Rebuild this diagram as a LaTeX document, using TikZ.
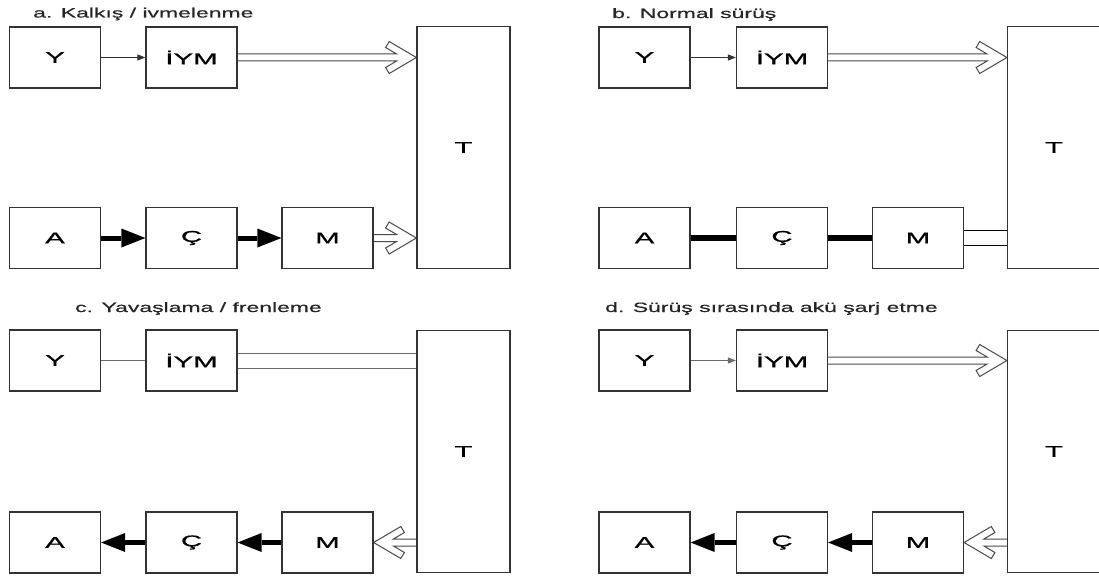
\documentclass[tikz,border=0pt]{standalone}
\usepackage{fontspec}
\usetikzlibrary{arrows.meta,backgrounds}
\newfontfamily\arialw{Liberation Sans}[FakeStretch=1.7,FakeBold=0.6]
\newfontfamily\arialb{Liberation Sans}[FakeStretch=1.9,FakeBold=1]
\definecolor{boxc}{HTML}{333333}
\definecolor{holc}{HTML}{4A4A4A}
\definecolor{grayl}{HTML}{6A6A6A}
% hollow double arrow: #1 start point (on a node border), #2 tip point; R = to the right, L = to the left
\newcommand\hollowR[2]{%
  \draw[holarr] ([shift={(0,-3.5)}]#1) -- ([shift={(-19.8,-3.5)}]#2) -- ([shift={(-30.8,-10)}]#2)
   -- ([shift={(-27.2,-16)}]#2) -- (#2) -- ([shift={(-27.2,16)}]#2) -- ([shift={(-30.8,10)}]#2)
   -- ([shift={(-19.8,3.5)}]#2) -- ([shift={(0,3.5)}]#1);}
\newcommand\hollowL[2]{%
  \draw[holarr] ([shift={(0,-3.5)}]#1) -- ([shift={(19.8,-3.5)}]#2) -- ([shift={(30.8,-10)}]#2)
   -- ([shift={(27.2,-16)}]#2) -- (#2) -- ([shift={(27.2,16)}]#2) -- ([shift={(30.8,10)}]#2)
   -- ([shift={(19.8,3.5)}]#2) -- ([shift={(0,3.5)}]#1);}
\begin{document}
\begin{tikzpicture}[x=1pt,y=-1pt,
 box/.style={draw=boxc,line width=1.2pt,inner sep=0pt,minimum width=91pt,minimum height=61pt,font={\arialb\fontsize{15.5pt}{15.5pt}\selectfont}},
 tall/.style={box,minimum width=93pt,minimum height=242pt},
 ttl/.style={anchor=base west,inner sep=0pt,font={\arialw\fontsize{13.5pt}{13.5pt}\selectfont},text=black!85},
 thinarr/.style={draw=boxc,line width=0.9pt,-{Triangle[length=8pt,width=6pt]}},
 thickarr/.style={draw=black,line width=5pt,-{Triangle[length=24pt,width=19pt,line width=0pt]}},
 thickln/.style={draw=black,line width=6pt},
 holarr/.style={draw=holc,fill=white,line width=1pt,line join=miter},
 twin/.style={line width=1pt,double=white,double distance=14pt},
]
\useasboundingbox (0,0) rectangle (1099,575);

% ---------- panel a ----------
\node[ttl] (ta) at (33,17.5) {a. Kalkış / ivmelenme};
\node[box] (Ya) at (55,57.5) {Y};
\node[box] (Ia) at (191.5,57.5) {İYM};
\node[tall] (Ta) at (463.5,147.5) {T};
\node[box] (Aa) at (55,238) {A};
\node[box] (Ca) at (191.5,238) {Ç};
\node[box] (Ma) at (327.5,238) {M};

% ---------- panel b ----------
\node[ttl] (tb) at (612,18) {b. Normal sürüş};
\node[box] (Yb) at (644.5,57.5) {Y};
\node[box] (Ib) at (782,57.5) {İYM};
\node[tall] (Tb) at (1054,147.5) {T};
\node[box] (Ab) at (644.5,238) {A};
\node[box] (Cb) at (782,238) {Ç};
\node[box] (Mb) at (918,238) {M};

% ---------- panel c ----------
\node[ttl] (tc) at (75,312) {c. Yavaşlama / frenleme};
\node[box] (Yc) at (55,360.5) {Y};
\node[box] (Ic) at (191.5,360.5) {İYM};
\node[tall] (Tc) at (463.5,451.5) {T};
\node[box] (Ac) at (55,542.5) {A};
\node[box] (Cc) at (191.5,542.5) {Ç};
\node[box] (Mc) at (327.5,542.5) {M};

% ---------- panel d ----------
\node[ttl] (td) at (605,312) {d. Sürüş sırasında akü şarj etme};
\node[box] (Yd) at (644.5,360.5) {Y};
\node[box] (Id) at (782,360.5) {İYM};
\node[tall] (Td) at (1054,451.5) {T};
\node[box] (Ad) at (644.5,542.5) {A};
\node[box] (Cd) at (782,542.5) {Ç};
\node[box] (Md) at (918,542.5) {M};

\begin{pgfonlayer}{background}
% panel a
\draw[thinarr] (Ya) -- (Ia);
\coordinate (pa1) at (Ia.east -| Ta.west);
\hollowR{Ia.east}{pa1}
\draw[thickarr] (Aa) -- (Ca);
\draw[thickarr] (Ca) -- (Ma);
\coordinate (pa2) at (Ma.east -| Ta.west);
\hollowR{Ma.east}{pa2}

% panel b
\draw[thinarr] (Yb) -- (Ib);
\coordinate (pb1) at (Ib.east -| Tb.west);
\hollowR{Ib.east}{pb1}
\draw[thickln] (Ab) -- (Cb);
\draw[thickln] (Cb) -- (Mb);
\draw[twin,draw=black] (Mb.east) -- (Mb.east -| Tb.west);

% panel c
\draw[draw=grayl,line width=1pt] (Yc) -- (Ic);
\draw[twin,draw=grayl] (Ic.east) -- (Ic.east -| Tc.west);
\coordinate (pc0) at (Mc.east -| Tc.west);
\hollowL{pc0}{Mc.east}
\draw[thickarr] (Mc) -- (Cc);
\draw[thickarr] (Cc) -- (Ac);

% panel d
\draw[thinarr,draw=grayl] (Yd) -- (Id);
\coordinate (pd1) at (Id.east -| Td.west);
\hollowR{Id.east}{pd1}
\coordinate (pd0) at (Md.east -| Td.west);
\hollowL{pd0}{Md.east}
\draw[thickarr] (Md) -- (Cd);
\draw[thickarr] (Cd) -- (Ad);
\end{pgfonlayer}
\end{tikzpicture}
\end{document}
